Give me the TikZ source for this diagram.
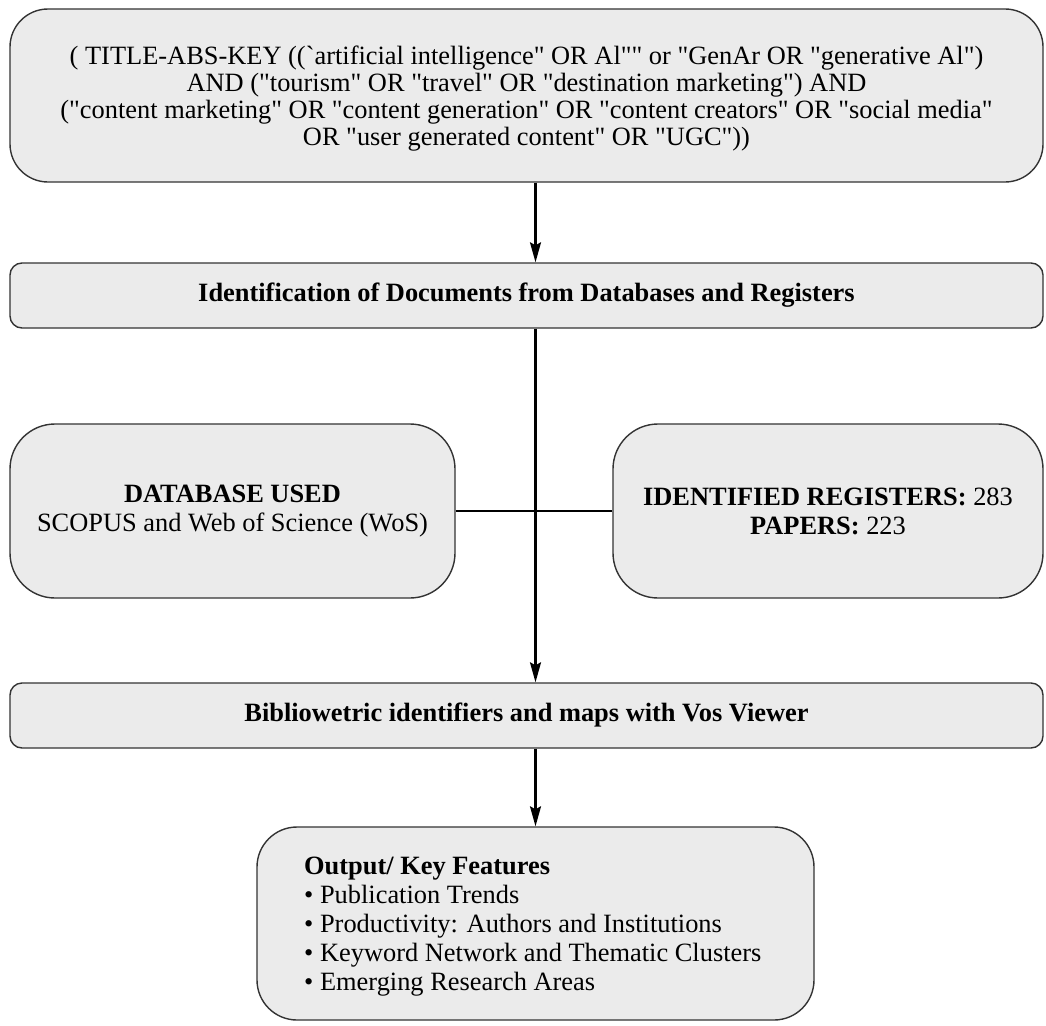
\documentclass[tikz,border=0pt]{standalone}
\usepackage{fontspec}
\setmainfont{Liberation Serif}[Ligatures=TeXOff]
\usetikzlibrary{arrows.meta}
\definecolor{boxfill}{HTML}{EBEBEB}
\definecolor{boxline}{HTML}{333333}
\begin{document}
\begin{tikzpicture}[x=1pt,y=-1pt,
  base/.style={draw=boxline,fill=boxfill,line width=1.4pt,inner sep=0pt,font=\fontsize{26.4}{29}\selectfont},
  bigbox/.style={base,rounded corners=40pt},
  barbox/.style={base,rounded corners=12pt},
  txt/.style={inner sep=0pt,font=\fontsize{26.4}{29}\selectfont},
  conn/.style={line width=2.2pt,black},
  arr/.style={conn,-{Stealth[length=20pt,width=11pt,inset=3pt]}}]
\useasboundingbox (0,0) rectangle (1046,1025);
% top query box
\node[bigbox,rounded corners=38pt,minimum width=1033pt,minimum height=173pt] (query) at (526.5,95.5) {};
\node[txt,align=center,font=\fontsize{26.4}{27}\selectfont] (querytext) at (526.5,99)
  {( TITLE-ABS-KEY ((`artificial intelligence" OR Al"" or "GenAr OR "generative Al")\\
   AND ("tourism" OR "travel" OR "destination marketing") AND\\
   ("content marketing" OR "content generation" OR "content creators" OR "social media"\\
   OR "user generated content" OR "UGC"))};
% identification bar
\node[barbox,minimum width=1033pt,minimum height=65pt] (ident) at (526.5,295.5)
  {\bfseries Identification of Documents from Databases and Registers};
% side boxes
\node[bigbox,rounded corners=45pt,minimum width=445pt,minimum height=174pt,align=center] (db) at (232.5,511)
  {\bfseries DATABASE USED\\ SCOPUS and Web of Science (WoS)};
\node[bigbox,rounded corners=45pt,minimum width=430pt,minimum height=174pt,align=center] (reg) at (828,511)
  {\textbf{IDENTIFIED REGISTERS:} 283\\ \textbf{PAPERS:} 223};
% biblio bar
\node[barbox,minimum width=1033pt,minimum height=65pt] (biblio) at (526.5,715.5)
  {\bfseries Bibliowetric identifiers and maps with Vos Viewer};
% output box
\node[bigbox,minimum width=557pt,minimum height=193pt] (out) at (535.5,923.5) {};
\node[txt,anchor=north west,align=left] (outtext) at (304,856.5)
  {\textbf{Output/ Key Features}\\
   • Publication Trends\\
   • Productivity: Authors and Institutions\\
   • Keyword Network and Thematic Clusters\\
   • Emerging Research Areas};
% connectors
\draw[arr] (query.south -| out.north) -- (ident.north -| out.north);
\draw[arr] (ident.south -| out.north) -- (biblio.north -| out.north);
\draw[conn] (db.east) -- (reg.west);
\draw[arr] (biblio.south -| out.north) -- (out.north);
\end{tikzpicture}
\end{document}
